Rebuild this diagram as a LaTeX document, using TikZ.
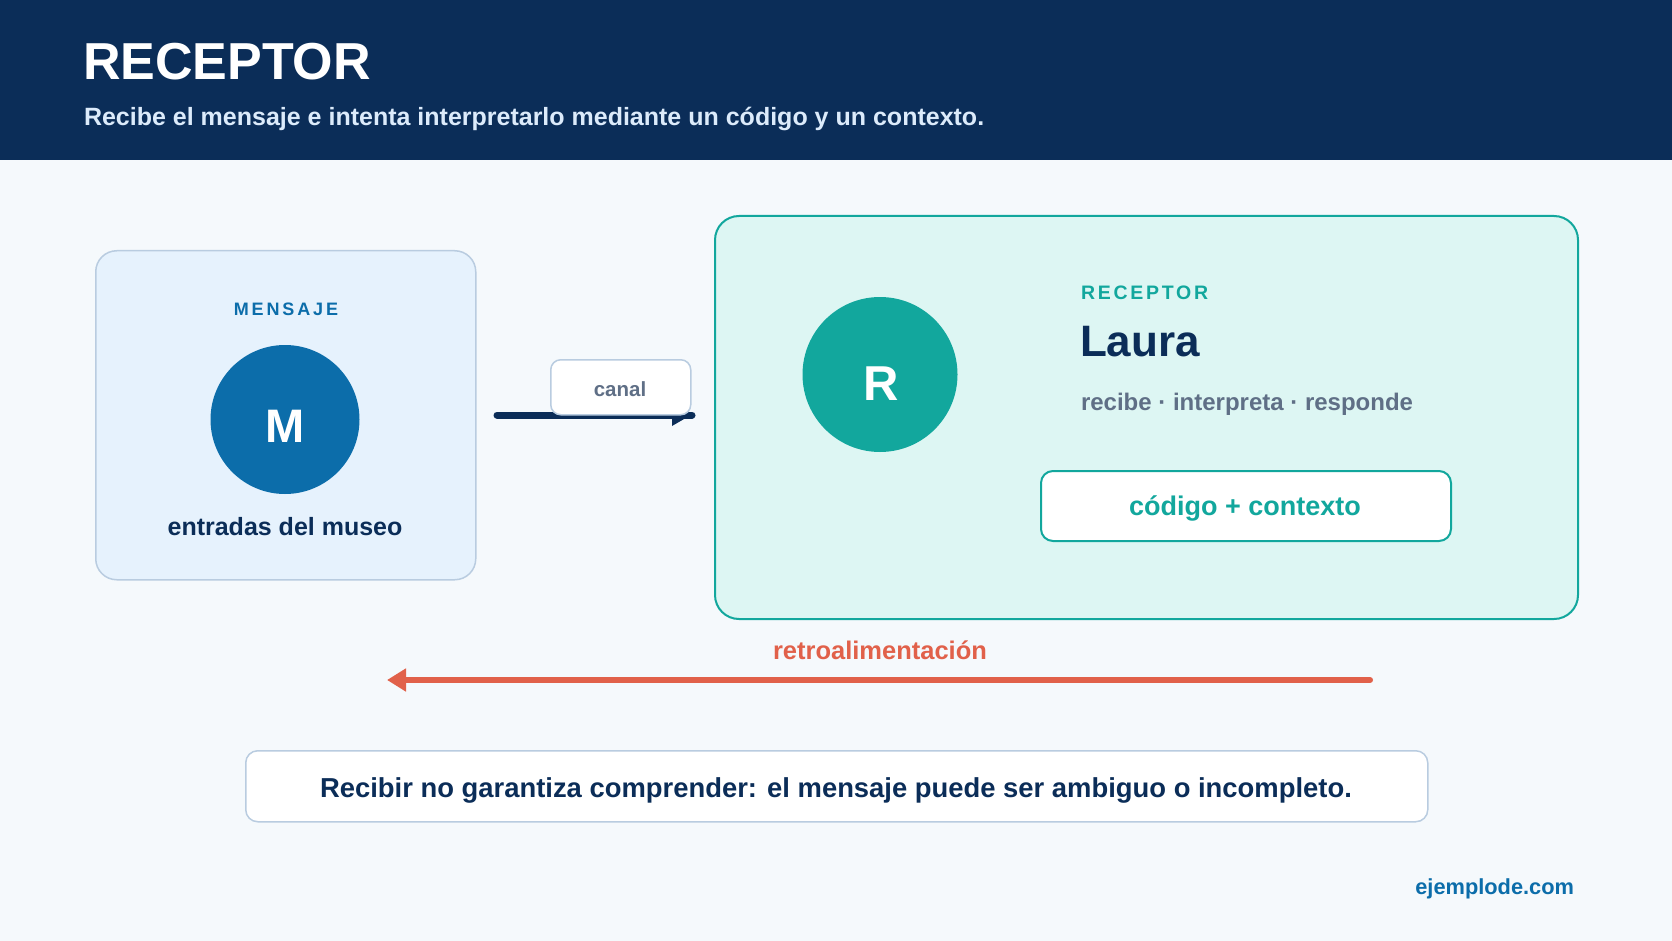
\documentclass[tikz,border=0pt]{standalone}
\usepackage{fontspec}
\setmainfont{Liberation Sans}
\newfontfamily\spacedA[LetterSpace=16]{Liberation Sans}
\newfontfamily\spacedB[LetterSpace=14]{Liberation Sans}
\usetikzlibrary{arrows.meta}
\definecolor{navy}{HTML}{0B2D58}
\definecolor{subtxt}{HTML}{DCEBFB}
\definecolor{bgc}{HTML}{F5F9FC}
\definecolor{lbfill}{HTML}{E6F2FD}
\definecolor{lbborder}{HTML}{B9CCE0}
\definecolor{blueM}{HTML}{0C6DAA}
\definecolor{teal}{HTML}{12A79D}
\definecolor{rbfill}{HTML}{DDF6F3}
\definecolor{graytxt}{HTML}{5F6F86}
\definecolor{coral}{HTML}{E1614A}
\newcommand{\fsz}[1]{\fontsize{#1}{#1}\selectfont}
\tikzset{
  txt/.style={inner sep=0pt, outer sep=0pt},
  card/.style={rounded corners=#1, anchor=north west, inner sep=0pt},
}
\begin{document}
\begin{tikzpicture}[x=1pt,y=-1pt]
\useasboundingbox (0,0) rectangle (1672,941);
\fill[bgc] (0,0) rectangle (1672,941);
\fill[navy] (0,0) rectangle (1672,160);
\node[txt, anchor=base west, text=white, font=\bfseries\fsz{52}] (title) at (83,80) {RECEPTOR};
\node[txt, anchor=base west, text=subtxt, font=\bfseries\fsz{25}] (subtitle) at (84,126) {Recibe el mensaje e intenta interpretarlo mediante un código y un contexto.};

% left card
\node[card=21pt, draw=lbborder, fill=lbfill, line width=1.5pt, minimum width=380pt, minimum height=329pt] (msgbox) at (95,250) {};
\node[txt, anchor=base, text=blueM, font=\spacedA\bfseries\fsz{18}] (msglabel) at (286,315) {MENSAJE};
\node[circle, fill=blueM, minimum size=149pt, inner sep=0pt] (M) at (285,419.5) {};
\node[txt, anchor=base, text=white, font=\bfseries\fsz{47}] (Mtxt) at (285,442) {M};
\node[txt, anchor=base, text=navy, font=\bfseries\fsz{25}] (msgtext) at (285,535) {entradas del museo};

% channel arrow
\coordinate (c1) at (497,415);
\coordinate (c2) at (692,415);
\draw[navy, line width=7pt, line cap=round] (c1) -- (c2);
\fill[navy] (672,412) -- (691,415) -- (672,426) -- cycle;
\node[card=10pt, draw=lbborder, fill=white, line width=1.5pt, minimum width=140pt, minimum height=55pt] (canalbox) at (550,359) {};
\node[txt, anchor=base, text=graytxt, font=\bfseries\fsz{20.5}] (canal) at (620,396) {canal};

% right card
\node[card=24pt, draw=teal, fill=rbfill, line width=2pt, minimum width=863pt, minimum height=403pt] (recbox) at (714,215) {};
\node[circle, fill=teal, minimum size=155pt, inner sep=0pt] (R) at (880,374.5) {};
\node[txt, anchor=base, text=white, font=\bfseries\fsz{49}] (Rtxt) at (881,400) {R};
\node[txt, anchor=base west, text=teal, font=\spacedB\bfseries\fsz{19.5}] (reclabel) at (1081,299) {RECEPTOR};
\node[txt, anchor=base west, text=navy, font=\bfseries\fsz{44}] (laura) at (1080,356) {Laura};
\node[txt, anchor=base west, text=graytxt, font=\bfseries\fsz{24}] (actions) at (1081,410) {recibe · interpreta · responde};
\node[card=12pt, draw=teal, fill=white, line width=2pt, minimum width=410pt, minimum height=70pt] (codebox) at (1040,470) {};
\node[txt, anchor=base, text=teal, font=\bfseries\fsz{27}] (code) at (1245,515) {código + contexto};

% feedback
\coordinate (f1) at (1370,680);
\coordinate (f2) at (387,680);
\draw[coral, line width=6pt, line cap=round, -{Triangle[length=19pt,width=22pt]}] (f1) -- (f2);
\node[txt, anchor=base, text=coral, font=\bfseries\fsz{25.5}] (retro) at (880,659) {retroalimentación};

% note
\node[card=12pt, draw=lbborder, fill=white, line width=1.5pt, minimum width=1182pt, minimum height=71pt] (notebox) at (245,750) {};
\node[txt, anchor=base, text=navy, font=\bfseries\fsz{27.4}] (note) at (836,797) {Recibir no garantiza comprender: el mensaje puede ser ambiguo o incompleto.};

\node[txt, anchor=base east, text=blueM, font=\bfseries\fsz{21.8}] (brand) at (1574,894) {ejemplode.com};
\end{tikzpicture}
\end{document}
